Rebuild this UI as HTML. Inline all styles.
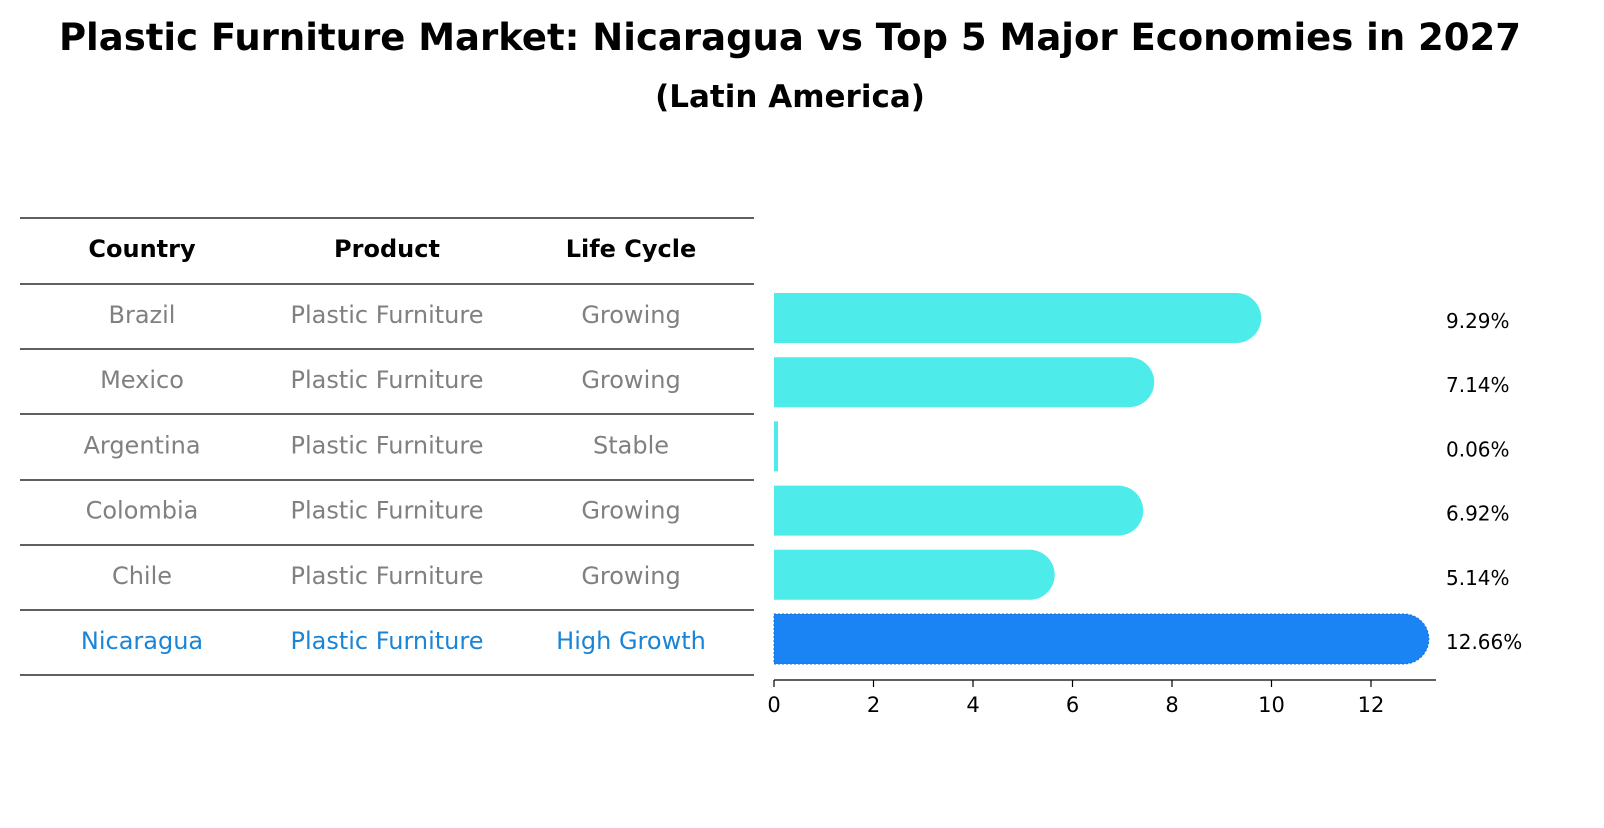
<!DOCTYPE html>
<html><head><meta charset="utf-8"><style>
body{margin:0;background:#fff;font-family:"Liberation Sans","DejaVu Sans",sans-serif;}
svg text{font-family:"DejaVu Sans","Liberation Sans",sans-serif;}
</style></head><body>
<svg id="chart" width="1604" height="823" xmlns="http://www.w3.org/2000/svg">
<text x="790" y="50" text-anchor="middle" font-size="37" font-weight="bold">Plastic Furniture Market: Nicaragua vs Top 5 Major Economies in 2027</text>
<text x="790" y="107" text-anchor="middle" font-size="31" font-weight="bold">(Latin America)</text>
<g id="table"></g>
<g id="bars"></g>
<g id="axis"></g>
</svg>
<script>
const countries=["Brazil","Mexico","Argentina","Colombia","Chile","Nicaragua"];
const products=["Plastic Furniture","Plastic Furniture","Plastic Furniture","Plastic Furniture","Plastic Furniture","Plastic Furniture"];
const lifeCycles=["Growing","Growing","Stable","Growing","Growing","High Growth"];
const values=[9.29,7.14,0.06,6.92,5.14,12.66];
const valueLabels=["9.29%","7.14%","0.06%","6.92%","5.14%","12.66%"];
const ticks=[0,2,4,6,8,10,12];

const NS="http://www.w3.org/2000/svg";
function mk(tag,attrs,parent){const e=document.createElementNS(NS,tag);for(const k in attrs)e.setAttribute(k,attrs[k]);parent.appendChild(e);return e;}
const x0=774,pxPerUnit=49.75;
const xs=v=>x0+v*pxPerUnit;
const rowY=i=>318+i*64.2;
const table=document.getElementById('table');
const bars=document.getElementById('bars');
const axis=document.getElementById('axis');
const lineYs=[218,284];
for(let i=0;i<countries.length;i++)lineYs.push(Math.round(284+(i+1)*65.2));
lineYs.forEach(y=>{const l=mk('line',{x1:20,x2:754,y1:y,y2:y,stroke:'#000','stroke-width':1.2},table);

});
const colX=[142,387,631];
["Country","Product","Life Cycle"].forEach((h,j)=>{const t=mk('text',{x:colX[j],y:257,'text-anchor':'middle','font-size':24,'font-weight':'bold'},table);t.textContent=h;

});
countries.forEach((c,i)=>{
  const y=323+i*65.2;const col=i===countries.length-1?'#1a84d6':'#808080';
  [c,products[i],lifeCycles[i]].forEach((v,j)=>{const t=mk('text',{x:colX[j],y:y,'text-anchor':'middle','font-size':24,fill:col},table);t.textContent=v;
  
  });
});
const h=50,r=25;
values.forEach((v,i)=>{
  const cy=rowY(i);const xe=xs(v);const last=i===values.length-1;
  const fill=last?'#1a84f4':'#4deceb';
  let d;
  if(xe-x0<r){const w=Math.max(xe-x0,4);d=`M${x0},${cy-h/2}h${w}v${h}h${-w}Z`;}
  else d=`M${x0},${cy-h/2}H${xe}A${r},${r} 0 0 1 ${xe},${cy+h/2}H${x0}Z`;
  const p=mk('path',{d:d,fill:fill},bars);
  if(last){p.setAttribute('stroke','#1570d0');p.setAttribute('stroke-dasharray','2,2');p.setAttribute('stroke-width','1');}
  
  
  const t=mk('text',{x:1446,y:cy+10,'font-size':20},bars);t.textContent=valueLabels[i];
  
  
});
const al=mk('line',{x1:x0,x2:1436,y1:680,y2:680,stroke:'#000','stroke-width':1.2},axis);


ticks.forEach(tv=>{
  const x=xs(tv);
  const tl=mk('line',{x1:x,x2:x,y1:680,y2:687,stroke:'#000','stroke-width':1.2},axis);
  
  
  const t=mk('text',{x:x,y:712,'text-anchor':'middle','font-size':21},axis);t.textContent=tv;
  
  
});
</script>
</body></html>
